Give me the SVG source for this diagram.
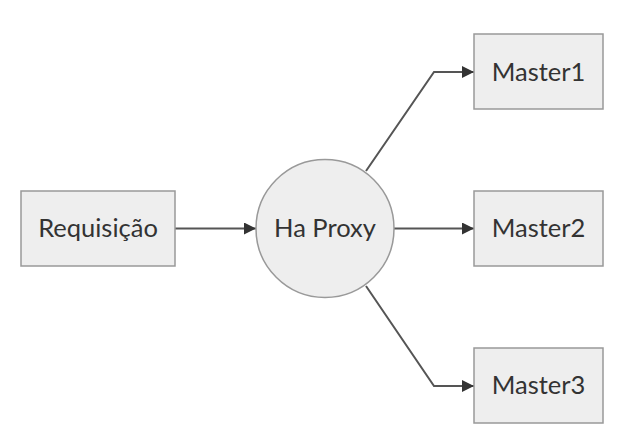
<svg xmlns="http://www.w3.org/2000/svg" width="643" height="445" viewBox="0 0 643 445">
<style>
.node rect,.node circle{fill:#eeeeee;stroke:#999999;stroke-width:1.5}
.lbl{font-family:Lato,"Open Sans",sans-serif;font-size:25.5px;fill:#333333;text-anchor:middle}
.edge{fill:none;stroke:#555555;stroke-width:2}
</style>
<defs>
<marker id="arr" viewBox="0 0 12 12" refX="12" refY="6" markerWidth="12" markerHeight="12" markerUnits="userSpaceOnUse" orient="auto">
<path d="M0,0 L12,6 L0,12 Z" fill="#333333"/>
</marker>
</defs>
<rect width="643" height="445" fill="#ffffff"/>
<g id="connectors">
<path class="edge" d="M175,228.5 L256,228.5" marker-end="url(#arr)"/>
<path class="edge" d="M366,171 L434,72 L474,72" marker-end="url(#arr)"/>
<path class="edge" d="M394,228.5 L474,228.5" marker-end="url(#arr)"/>
<path class="edge" d="M366,286 L434,386 L474,386" marker-end="url(#arr)"/>
</g>
<g id="requisicao" class="node"><rect x="21" y="191" width="154" height="75"/><text class="lbl" x="98" y="237">Requisição</text></g>
<g id="haproxy" class="node"><circle cx="325" cy="228.5" r="69"/><text class="lbl" x="325" y="237">Ha Proxy</text></g>
<g id="master1" class="node"><rect x="474" y="34" width="129" height="75"/><text class="lbl" x="538.5" y="80.5">Master1</text></g>
<g id="master2" class="node"><rect x="474" y="191" width="129" height="75"/><text class="lbl" x="538.5" y="237">Master2</text></g>
<g id="master3" class="node"><rect x="474" y="348" width="129" height="75"/><text class="lbl" x="538.5" y="394">Master3</text></g>
</svg>
